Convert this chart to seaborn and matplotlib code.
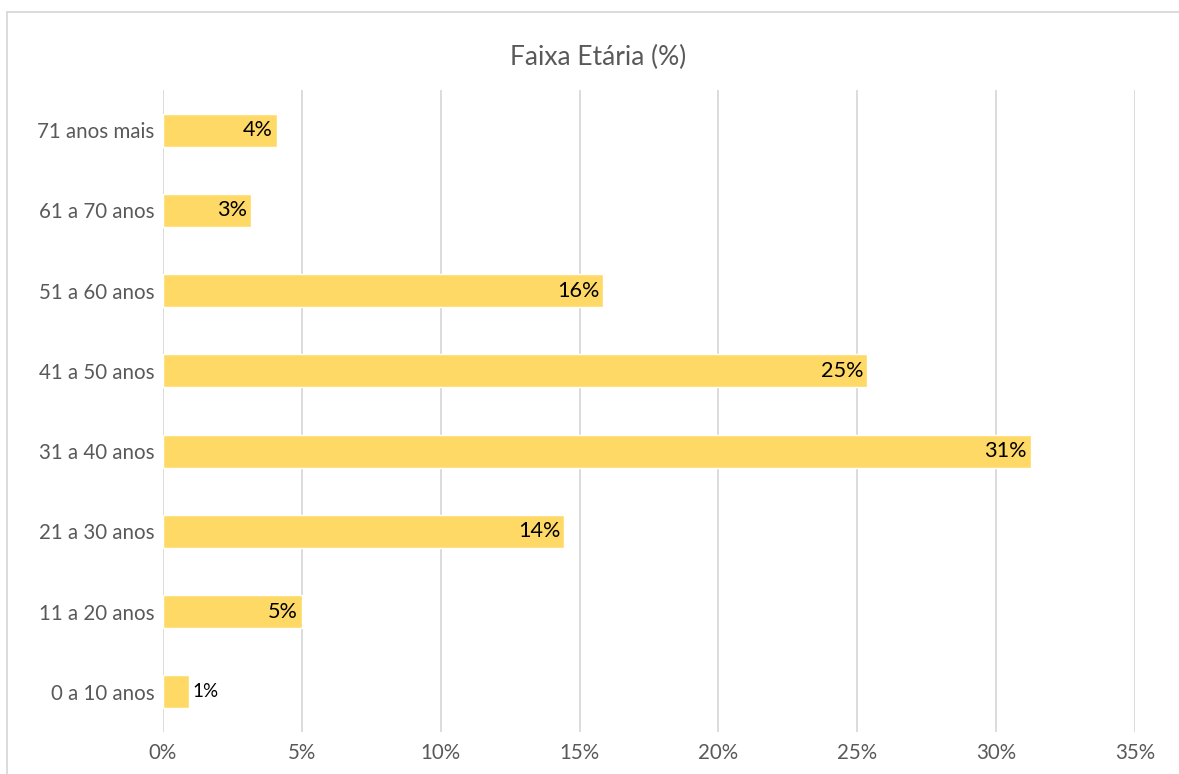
import matplotlib
matplotlib.use('Agg')
import matplotlib.pyplot as plt
import seaborn as sns
import pandas as pd
from matplotlib.patches import Rectangle

# dados (de cima para baixo)
faixas = ['71 anos mais', '61 a 70 anos', '51 a 60 anos', '41 a 50 anos',
          '31 a 40 anos', '21 a 30 anos', '11 a 20 anos', '0 a 10 anos']
percentual = [4.1, 3.17, 15.86, 25.36, 31.26, 14.45, 5.0, 0.92]
ticks_x = [0, 5, 10, 15, 20, 25, 30, 35]

df = pd.DataFrame({'faixa': faixas, 'pct': percentual})

sns.set_theme(style='white')
plt.rcParams['font.family'] = ['Lato', 'DejaVu Sans']

fig = plt.figure(figsize=(11.79, 7.74), dpi=100)
ax = fig.add_axes([163 / 1179, 1 - 732 / 774, (1135 - 163) / 1179, (732 - 90) / 774])

sns.barplot(data=df, x='pct', y='faixa', orient='h', color='#FFD966',
            saturation=1, width=0.41, ax=ax, zorder=3)

ax.set_xlim(0, 35)
ax.set_ylim(7.5, -0.5)
ax.set_xticks(ticks_x)
ax.set_xticklabels([f'{t}%' for t in ticks_x])
ax.grid(axis='x', color='#D9D9D9', lw=1.3, zorder=0)
ax.grid(axis='y', visible=False)
for s in ax.spines.values():
    s.set_visible(False)
ax.tick_params(axis='both', length=0, labelsize=14.8, labelcolor='#595959', pad=6)
ax.tick_params(axis='x', pad=8)
ax.set_xlabel('')
ax.set_ylabel('')

# rótulos de valor
for i, v in enumerate(percentual):
    txt = f'{round(v)}%'
    if v < 2:
        ax.text(v + 0.15, i, txt, ha='left', va='center', fontsize=13.5, color='black', zorder=4)
    else:
        ax.text(v - 0.15, i, txt, ha='right', va='center', fontsize=15.6, color='black', zorder=4)

fig.text(598 / 1179, 1 - 57 / 774, 'Faixa Etária (%)', ha='center', va='center',
         fontsize=19, color='#595959')

# borda da área do gráfico
fig.patches.append(Rectangle((7 / 1179, -0.01), 1.05, 1 - 12 / 774 + 0.01, transform=fig.transFigure,
                             fill=False, edgecolor='#D9D9D9', lw=1.3))

fig.savefig('out.png', dpi=100)
